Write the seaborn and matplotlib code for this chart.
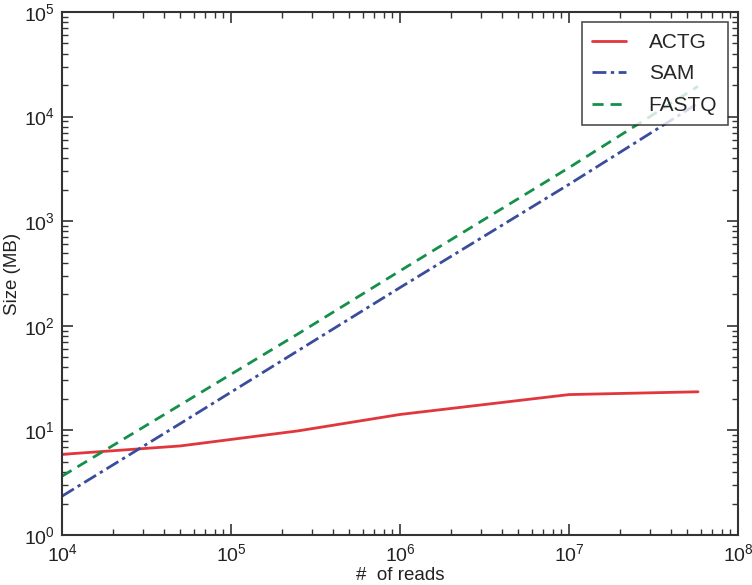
import matplotlib
matplotlib.use("Agg")
import matplotlib.pyplot as plt
import seaborn as sns
import pandas as pd
import numpy as np

reads = [1e4, 5e4, 2.5e5, 1e6, 1e7, 5.8e7]
actg = [5.9, 7.1, 9.9, 14.2, 22.0, 23.4]
sam = [2.35, 11.6, 58, 232, 2250, 13400]
fastq = [3.65, 17.5, 84, 335, 3250, 19500]
series_names = ["ACTG", "SAM", "FASTQ"]
colors = ["#e0363c", "#3a4d9c", "#14904a"]

sns.set_style("ticks")
plt.rcParams['font.family'] = ['Liberation Sans', 'DejaVu Sans']
plt.rcParams['mathtext.fontset'] = 'custom'
plt.rcParams['mathtext.rm'] = 'Liberation Sans'
plt.rcParams['mathtext.it'] = 'Liberation Sans'

df = pd.DataFrame({
    "reads": reads * 3,
    "size": actg + sam + fastq,
    "kind": [n for n in series_names for _ in reads],
})

fig = plt.figure(figsize=(7.52, 5.85), dpi=100)
ax = fig.add_axes([62/752, 50/585, 676/752, 523/585])

dashes = {"ACTG": "", "SAM": (5, 1.6, 1.2, 1.6), "FASTQ": (4, 2.5)}
sns.lineplot(data=df, x="reads", y="size", hue="kind", style="kind",
             palette=dict(zip(series_names, colors)), dashes=dashes,
             linewidth=2, ax=ax)

ax.set_xscale("log")
ax.set_yscale("log")
ax.set_xlim(1e4, 1e8)
ax.set_ylim(1, 1e5)
ax.set_xlabel("#  of reads", fontsize=13.5, color="#222222", labelpad=1)
ax.set_ylabel("Size (MB)", fontsize=13.5, color="#222222", labelpad=2)
ax.tick_params(which="both", direction="in", top=True, right=True, colors="#333333", labelcolor="#222222")
ax.tick_params(which="major", length=8, width=1.2, labelsize=14)
ax.tick_params(axis="x", which="major", pad=6)
ax.tick_params(axis="y", which="major", pad=5)
ax.tick_params(which="minor", length=4, width=1)
for s in ax.spines.values():
    s.set_visible(True)
    s.set_linewidth(1.5)
    s.set_color("#333333")

leg = ax.legend(loc="upper right", fontsize=15, frameon=True, fancybox=False,
                edgecolor="#222222", borderpad=0.5, handlelength=1.6,
                handletextpad=1.1, labelspacing=0.6, borderaxespad=0.5)
leg.get_frame().set_linewidth(1.2)
leg.set_title(None)

fig.savefig("out.png", dpi=100)
